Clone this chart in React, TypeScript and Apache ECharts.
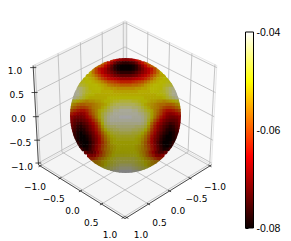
import React, { useEffect, useRef } from "react";
import * as echarts from "echarts";

const axisTicks = [-1, -0.5, 0, 0.5, 1];
const colorbarTicks = [-0.08, -0.06, -0.04];

// Surface value at each picture cell, in thousandths below zero (40 = -0.040, 80 = -0.080).
// Each row lists only the cells the sphere reaches, centred on the sphere's axis.
const sphereRows: number[][] = [
  [62,65,68,69,70,70,69,68,65,62],
  [56,60,64,68,72,75,76,77,77,76,75,72,68,64,60,56],
  [55,58,61,65,69,73,77,79,80,80,80,80,79,77,73,69,65,61,58,55],
  [55,60,64,66,68,71,74,77,79,80,80,80,80,79,77,74,71,68,66,64,60,55],
  [51,56,60,63,66,68,70,72,74,76,77,77,77,77,76,74,72,70,68,66,63,60,56,51],
  [51,52,54,57,60,63,65,67,69,71,72,73,73,73,73,72,71,69,67,65,63,60,57,54,52,51],
  [50,50,51,52,54,57,60,62,64,65,66,67,68,68,68,68,67,66,65,64,62,60,57,54,52,51,50,50],
  [49,49,50,50,51,52,53,55,57,59,60,61,62,63,63,63,63,62,61,60,59,57,55,53,52,51,50,50,49,49],
  [46,47,48,49,50,50,50,51,52,53,55,56,57,57,58,58,58,58,57,57,56,55,53,52,51,50,50,50,49,48,47,46],
  [43,44,46,48,50,50,50,50,51,52,52,53,53,54,54,54,54,54,54,53,53,52,52,51,50,50,50,50,48,46,44,43],
  [41,42,44,46,48,49,50,50,50,51,51,51,51,52,52,52,52,52,52,52,52,51,51,51,51,50,50,50,49,48,46,44,42,41],
  [41,42,44,47,49,50,50,51,51,51,51,51,51,51,51,51,51,51,51,51,51,51,51,51,51,51,51,50,50,49,47,44,42,41],
  [41,42,44,46,48,50,51,51,51,51,51,51,50,50,50,50,50,50,50,50,50,50,50,50,51,51,51,51,51,51,50,48,46,44,42,41],
  [47,49,51,52,53,54,53,53,52,52,51,50,50,49,48,48,47,47,47,47,48,48,49,50,50,51,52,52,53,53,54,53,52,51,49,47],
  [52,54,56,57,57,56,56,55,54,53,52,51,49,47,46,45,45,45,45,45,45,46,47,49,51,52,53,54,55,56,56,57,57,56,54,52],
  [55,57,59,60,60,59,57,55,54,53,51,49,47,45,44,44,43,43,43,43,44,44,45,47,49,51,53,54,55,57,59,60,60,59,57,55],
  [59,61,63,64,64,62,59,56,54,51,49,47,45,44,42,42,41,41,41,41,42,42,44,45,47,49,51,54,56,59,62,64,64,63,61,59],
  [63,65,67,68,67,64,60,57,54,51,47,45,43,42,41,41,41,41,41,41,41,41,42,43,45,47,51,54,57,60,64,67,68,67,65,63],
  [67,69,70,70,69,66,63,59,55,51,47,44,42,41,41,41,40,40,40,40,41,41,41,42,44,47,51,55,59,63,66,69,70,70,69,67],
  [68,71,72,72,71,69,66,62,58,53,48,44,42,41,41,41,41,41,41,41,41,41,41,42,44,48,53,58,62,66,69,71,72,72,71,68],
  [69,72,74,75,73,71,68,65,61,56,50,45,43,42,42,42,42,42,42,42,42,42,42,43,45,50,56,61,65,68,71,73,75,74,72,69],
  [70,73,76,77,75,73,70,67,63,58,52,47,45,44,44,43,43,43,43,43,43,44,44,45,47,52,58,63,67,70,73,75,77,76,73,70],
  [71,74,77,78,77,74,71,68,64,60,54,50,47,46,45,45,44,44,44,44,45,45,46,47,50,54,60,64,68,71,74,77,78,77,74,71],
  [71,75,78,80,78,76,73,70,66,62,57,53,50,48,47,47,46,46,46,46,47,47,48,50,53,57,62,66,70,73,76,78,80,78,75,71],
  [71,75,78,80,80,78,75,71,68,64,59,55,52,50,49,48,48,48,48,48,48,49,50,52,55,59,64,68,71,75,78,80,80,78,75,71],
  [75,78,80,80,79,76,72,69,65,60,56,53,51,50,49,49,49,49,49,49,50,51,53,56,60,65,69,72,76,79,80,80,78,75],
  [76,79,80,80,77,73,69,65,61,57,54,51,50,50,50,50,50,50,50,50,51,54,57,61,65,69,73,77,80,80,79,76],
  [74,78,80,79,76,72,68,64,60,57,54,52,51,50,50,50,50,50,50,51,52,54,57,60,64,68,72,76,79,80,78,74],
  [73,77,78,75,71,67,63,59,56,54,52,51,50,50,50,50,50,50,51,52,54,56,59,63,67,71,75,78,77,73],
  [70,73,73,70,66,62,58,55,53,51,50,50,50,50,50,50,50,51,53,55,58,62,66,70,73,73,70],
  [66,68,67,63,60,57,54,52,50,49,49,49,49,49,49,49,50,52,54,57,60,63,67,68,66],
  [62,62,60,57,55,53,51,49,48,47,47,47,47,47,47,48,49,51,53,55,57,60,62,62],
  [55,55,54,52,51,49,48,47,46,46,46,46,46,46,47,48,49,51,52,54,55,55],
  [53,53,52,50,48,47,46,45,44,44,44,44,45,46,47,48,50,52,53,53],
  [48,47,46,45,44,43,42,42,42,42,43,44,45,46,47,48],
  [42,41,41,40,40,40,40,41,41,42],
];

const sphereCols = 36;
const sphereData: number[][] = [];
sphereRows.forEach((row, r) => {
  const start = (sphereCols - row.length) / 2;
  row.forEach((v, i) => sphereData.push([start + i, r, -v / 1000]));
});

const hotStops: [number, number[]][] = [
  [0, [10, 0, 0]],
  [0.365, [255, 0, 0]],
  [0.746, [255, 255, 0]],
  [1, [255, 255, 255]],
];

function hot(t: number): number[] {
  const x = Math.max(0, Math.min(1, t));
  for (let i = 1; i < hotStops.length; i++) {
    if (x <= hotStops[i][0]) {
      const [a, ca] = hotStops[i - 1];
      const [b, cb] = hotStops[i];
      const f = (x - a) / (b - a);
      return ca.map((c, k) => c + (cb[k] - c) * f);
    }
  }
  return [255, 255, 255];
}

// view of the 3D box
const elev = (35 * Math.PI) / 180;
const azim = (45 * Math.PI) / 180;
const focal = 10;
const scaleX = 1210;
const scaleY = 1164;
const centerX = 125;
const centerY = 116.7;
const edge = 1 + 1 / 24;

function project(x: number, y: number, z: number): [number, number] {
  const px = x / 2, py = y / 2, pz = z / 2;
  const w = [Math.cos(elev) * Math.cos(azim), Math.cos(elev) * Math.sin(azim), Math.sin(elev)];
  const u = [-Math.SQRT1_2, Math.SQRT1_2, 0];
  const v = [-Math.sin(elev) * Math.SQRT1_2, -Math.sin(elev) * Math.SQRT1_2, Math.cos(elev)];
  const X = u[0] * px + u[1] * py;
  const Y = v[0] * px + v[1] * py + v[2] * pz;
  const D = w[0] * px + w[1] * py + w[2] * pz;
  return [centerX + (scaleX * X) / (focal - D), centerY - (scaleY * Y) / (focal - D)];
}

function line(a: [number, number], b: [number, number], stroke: string, lineWidth = 0.8) {
  return {
    type: "line",
    silent: true,
    shape: { x1: a[0], y1: a[1], x2: b[0], y2: b[1] },
    style: { stroke, lineWidth },
  };
}

function pane(pts: [number, number, number][], fill: string) {
  return {
    type: "polygon",
    silent: true,
    shape: { points: pts.map((p) => project(p[0], p[1], p[2])) },
    style: { fill, stroke: "#e4e4e4", lineWidth: 0.8 },
  };
}

function label(t: number, x: number, y: number) {
  const text = (t < 0 ? "\u2212" : "") + Math.abs(t).toFixed(1);
  return {
    type: "text",
    silent: true,
    x,
    y,
    style: {
      text,
      fill: "#000",
      font: '9px "DejaVu Sans"',
      align: "center",
      verticalAlign: "middle",
      textAlign: "center",
      textVerticalAlign: "middle",
    },
  };
}

function boxElements() {
  const e = edge;
  const els: any[] = [
    pane([[-e, -e, -e], [-e, e, -e], [-e, e, e], [-e, -e, e]], "#f9f9f9"),
    pane([[-e, -e, -e], [e, -e, -e], [e, -e, e], [-e, -e, e]], "#f2f2f2"),
    pane([[-e, -e, -e], [e, -e, -e], [e, e, -e], [-e, e, -e]], "#f5f5f5"),
  ];
  const g = "#b8b8b8";
  axisTicks.forEach((t) => {
    els.push(line(project(-e, t, -e), project(-e, t, e), g));
    els.push(line(project(-e, -e, t), project(-e, e, t), g));
    els.push(line(project(t, -e, -e), project(t, -e, e), g));
    els.push(line(project(-e, -e, t), project(e, -e, t), g));
    els.push(line(project(t, -e, -e), project(t, e, -e), g));
    els.push(line(project(-e, t, -e), project(e, t, -e), g));
  });
  const k = "#222";
  els.push(line(project(e, -e, -e), project(e, -e, e), k));
  els.push(line(project(e, -e, -e), project(e, e, -e), k));
  els.push(line(project(-e, e, -e), project(e, e, -e), k));
  const d = 0.035;
  axisTicks.forEach((t, i) => {
    const f = i / (axisTicks.length - 1);
    els.push(line(project(e + d, -e - d, t), project(e - d, -e + d, t), k));
    els.push(line(project(e + d, t, -e), project(e - d, t, -e), k));
    els.push(line(project(t, e + d, -e), project(t, e - d, -e), k));
    els.push(label(t, 22 - 7 * f, 167 - 96 * f));
    els.push(label(t, 35 + 75 * f, 187 + 48 * f));
    els.push(label(t, 215 - 74 * f, 187 + 48 * f));
  });
  return els;
}

const toCss = (c: number[], s = 1) =>
  `rgb(${Math.round(c[0] * s)},${Math.round(c[1] * s)},${Math.round(c[2] * s)})`;

export default function App() {
  const ref = useRef<HTMLDivElement>(null);
  useEffect(() => {
    const chart = echarts.init(ref.current!, undefined, { renderer: "svg" });
    const lo = colorbarTicks[0];
    const hi = colorbarTicks[colorbarTicks.length - 1];
    chart.setOption({
      animation: false,
      backgroundColor: "#fff",
      graphic: { elements: boxElements() },
      grid: [
        { left: 70, top: 58, width: 111, height: 115 },
        { left: 245.5, top: 32, width: 8, height: 196 },
      ],
      xAxis: [
        { type: "value", gridIndex: 0, min: 0, max: sphereCols, show: false },
        { type: "value", gridIndex: 1, min: 0, max: 1, show: false },
      ],
      yAxis: [
        { type: "value", gridIndex: 0, min: 0, max: sphereRows.length, inverse: true, show: false },
        {
          type: "value",
          gridIndex: 1,
          min: lo,
          max: hi,
          interval: 0.02,
          position: "right",
          splitLine: { show: false },
          axisLine: { show: false },
          axisTick: { show: true, length: 3, lineStyle: { color: "#000", width: 1 } },
          axisLabel: {
            color: "#000",
            fontFamily: "Liberation Sans",
            fontSize: 10.5,
            margin: 3,
            formatter: (v: number) => v.toFixed(2),
          },
        },
      ],
      series: [
        {
          type: "custom",
          xAxisIndex: 0,
          yAxisIndex: 0,
          z: 5,
          clip: false,
          silent: true,
          data: sphereData,
          renderItem: (_: any, api: any) => {
            const c = api.value(0);
            const r = api.value(1);
            const v = api.value(2);
            const a = api.coord([c, r]);
            const b = api.coord([c + 1, r + 1]);
            const o = api.coord([sphereCols / 2, sphereRows.length / 2]);
            const rx = 55.5;
            const ry = 57.5;
            const nu = ((a[0] + b[0]) / 2 - o[0]) / rx;
            const nv = ((a[1] + b[1]) / 2 - o[1]) / ry;
            const rim = Math.sqrt(Math.max(0, 1 - nu * nu - nv * nv));
            const shade = (0.65 - (nv < 0 ? 0.17 : 0.1) * nv) * (0.9 + 0.1 * rim);
            return {
              type: "rect",
              shape: { x: a[0], y: a[1], width: b[0] - a[0] + 0.6, height: b[1] - a[1] + 0.6 },
              style: { fill: toCss(hot((v - lo) / (hi - lo)), shade) },
              clipPath: { type: "ellipse", shape: { cx: o[0], cy: o[1], rx, ry } },
            };
          },
        },
        {
          type: "custom",
          xAxisIndex: 1,
          yAxisIndex: 1,
          z: 5,
          silent: true,
          clip: false,
          data: [[0, lo, 1, hi]],
          renderItem: (_: any, api: any) => {
            const a = api.coord([api.value(0), api.value(3)]);
            const b = api.coord([api.value(2), api.value(1)]);
            return {
              type: "rect",
              shape: { x: a[0], y: a[1], width: b[0] - a[0], height: b[1] - a[1] },
              style: {
                fill: new echarts.graphic.LinearGradient(
                  0, 1, 0, 0,
                  hotStops.map(([offset, c]) => ({ offset, color: toCss(c) }))
                ),
                stroke: "#000",
                lineWidth: 1,
              },
            };
          },
        },
      ],
    });
    return () => chart.dispose();
  }, []);
  return <div ref={ref} style={{ position: "fixed", left: 0, top: 0, width: 291, height: 241 }} />;
}
